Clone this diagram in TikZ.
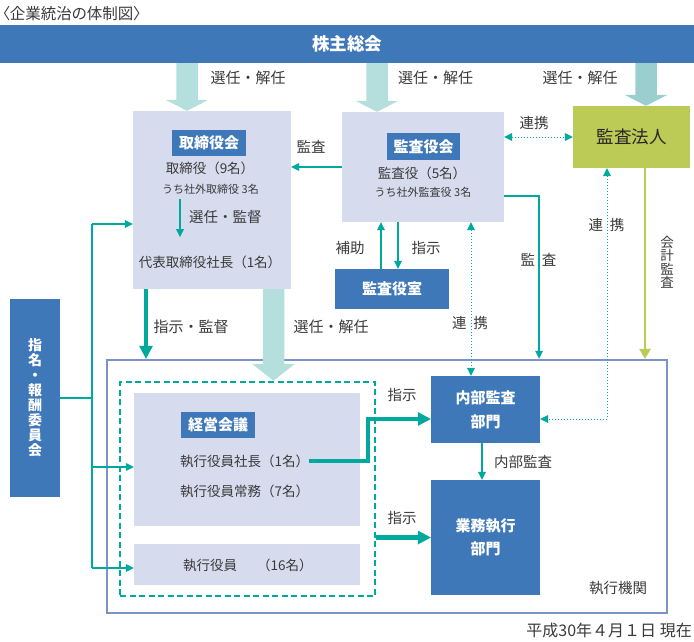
\documentclass[tikz,border=0pt]{standalone}
\usepackage{fontspec}
\setmainfont{Noto Sans CJK JP}
\newfontfamily\paltfont[RawFeature=+palt]{Noto Sans CJK JP}
\usetikzlibrary{arrows.meta,calc}
\definecolor{cblue}{HTML}{3F78B8}
\definecolor{clav}{HTML}{D6DCEE}
\definecolor{cteal}{HTML}{00A99D}
\definecolor{clight}{HTML}{B4DFDC}
\definecolor{cdark}{HTML}{9BCFCF}
\definecolor{colive}{HTML}{BCCA56}
\definecolor{cframe}{HTML}{7B93C9}
\definecolor{ctext}{HTML}{3A3A3A}
\newcommand\fsz[1]{\fontsize{#1}{#1}\selectfont}
\newcommand\fatarrow[5]{%
  \fill[#1] let \p1=(#3), \p2=(#4) in
    (#2pt-10.75pt,\y1) -- (#2pt+10.75pt,\y1) -- (#2pt+10.75pt,\y2+#5pt)
    -- (#2pt+21.5pt,\y2+#5pt) -- (#2pt,\y2) -- (#2pt-21.5pt,\y2+#5pt)
    -- (#2pt-10.75pt,\y2+#5pt) -- cycle;}
\tikzset{
  every node/.style={text=ctext, inner sep=0pt},
  bluebox/.style={fill=cblue, text=white, font=\fsz{15}\bfseries},
  lavbox/.style={fill=clav},
  body/.style={font=\fsz{13.5}},
  small/.style={font=\fsz{11}},
  lbl/.style={font=\fsz{14.5}},
  lblw/.style={font=\fsz{15}},
  conn/.style={draw=cteal, line width=1.3pt, -{Triangle[width=8pt,length=8pt,line width=0pt]}},
  tline/.style={draw=cteal, line width=1.3pt},
  dconn/.style={draw=cteal, line width=1pt, dotted, {Triangle[width=8pt,length=8pt,line width=0pt]}-{Triangle[width=8pt,length=8pt,line width=0pt]}},
  oconn/.style={draw=colive, line width=1.6pt, -{Triangle[width=12pt,length=10pt,line width=0pt]}},
  thickconn/.style={draw=cteal, line width=4.5pt, -{Triangle[width=14pt,length=13pt,line width=0pt]}},
}
\begin{document}
\begin{tikzpicture}[x=1pt,y=-1pt]
\useasboundingbox (0,0) rectangle (694,641);

% title and banner
\node[anchor=base west, font=\paltfont\fsz{15.5}, text height=12pt, text depth=3pt] (title) at (2,19) {〈企業統治の体制図〉};
\node[bluebox, minimum width=694pt, minimum height=38pt, font=\fsz{17.5}\bfseries] (banner) at (347,44) {株主総会};

% board of directors
\node[lavbox, minimum width=158pt, minimum height=178pt] (board) at (212,200) {};
\node[bluebox, minimum width=74pt, minimum height=26pt] (boardlbl) at (209,143) {取締役会};
\node[body] (bdir) at (210,168) {取締役（9名）};
\node[small] (bout) at (210.5,189) {うち社外取締役 3名};
\node[body] (bpres) at (210,262) {代表取締役社長（1名）};
\coordinate (ba1) at (180,199);
\coordinate (ba2) at (180,237);
\node[lbl, anchor=west] (lselect) at (189,217) {選任・監督};

% audit board
\node[lavbox, minimum width=162pt, minimum height=110pt] (audit) at (423,167) {};
\node[bluebox, minimum width=73pt, minimum height=27pt] (auditlbl) at (423.5,146.5) {監査役会};
\node[body] (adir) at (422,173) {監査役（5名）};
\node[small] (aout) at (423,192) {うち社外監査役 3名};

% audit firm
\node[fill=colive, minimum width=117pt, minimum height=62pt, font=\fsz{17.5}, text=black!85] (firm) at (631.5,137) {監査法人};

% audit office
\node[bluebox, minimum width=114pt, minimum height=40pt] (office) at (392,289) {監査役室};

% nomination committee
\node[bluebox, minimum width=50pt, minimum height=198pt, align=center, font=\fontsize{14}{15}\selectfont\bfseries] (nom) at (35,398) {指\\名\\・\\報\\酬\\委\\員\\会};

% executive frame
\node[draw=cframe, line width=2.5pt, minimum width=560pt, minimum height=253pt] (exec) at (387,486.5) {};
\node[draw=cteal, line width=2.5pt, dash pattern=on 6pt off 3.5pt, minimum width=255pt, minimum height=214pt] (dbox) at (247.5,489) {};
\node[lavbox, minimum width=226pt, minimum height=133pt] (mgmt) at (247,459.5) {};
\node[bluebox, minimum width=74pt, minimum height=26pt] (mgmtlbl) at (218,425) {経営会議};
\node[body, anchor=west] (pres) at (180,461) {執行役員社長（1名）};
\node[body, anchor=west] (mdir) at (180,491) {執行役員常務（7名）};
\node[lavbox, minimum width=226pt, minimum height=41pt] (officers) at (247,564.5) {};
\node[body, anchor=west] (offtxt) at (183,565) {執行役員\hspace{20pt}（16名）};
\node[bluebox, minimum width=109pt, minimum height=67pt, align=center, font=\fontsize{15}{24}\selectfont\bfseries] (internal) at (485.5,409.5) {内部監査\\部門};
\node[bluebox, minimum width=109pt, minimum height=115pt, align=center, font=\fontsize{15}{23}\selectfont\bfseries] (ops) at (485.5,537.5) {業務執行\\部門};
\node[lbl] (lexec) at (618,588) {執行機関};

% wide arrows
\fatarrow{clight}{187}{banner.south}{board.north}{11}
\fatarrow{clight}{377}{banner.south}{audit.north}{11}
\fatarrow{cdark}{646}{banner.south}{firm.north}{11}
\fatarrow{clight}{273.5}{board.south}{dbox.north}{17}

% connectors
\draw[conn] (ba1) -- (ba2);
\draw[conn] (audit.west) -- (audit.west -| board.east);
\draw[dconn] (firm.west -| audit.east) -- (firm.west);
\draw[conn] ([yshift=-29pt]audit.east) -| ([xshift=152pt]exec.north);
\draw[conn] ([xshift=-11pt]office.north) -- ([xshift=-11pt]office.north |- audit.south);
\draw[conn] ([xshift=6pt]office.north |- audit.south) -- ([xshift=6pt]office.north);
\draw[dconn] ([xshift=-14.5pt]internal.north |- audit.south) -- ([xshift=-14.5pt]internal.north);
\draw[dconn] ([xshift=-24.5pt]firm.south) |- ([yshift=-9.5pt]internal.east);
\draw[oconn] ([xshift=13.5pt]firm.south) -- ([xshift=13.5pt]firm.south |- exec.north);

\coordinate (bus1) at (92,224);
\coordinate (bus2) at (92,467);
\coordinate (bus3) at (92,568);
\draw[tline] (nom.east) -- (nom.east -| bus1);
\draw[tline] (bus1) -- (bus3);
\draw[conn] (bus1) -- (bus1 -| board.west);
\draw[conn] (bus2) -- (bus2 -| mgmt.west);
\draw[conn] (bus3) -- (bus3 -| officers.west);

\draw[thickconn] ([xshift=-66pt]board.south) -- ([xshift=-66pt]board.south |- exec.north);
\coordinate (k1) at (368,461);
\draw[thickconn] (pres.east) -- (pres.east -| k1) |- ([yshift=-9.5pt]internal.west);
\draw[thickconn] (dbox.east |- ops.west) -- (ops.west);
\draw[conn] ([xshift=-3.5pt]internal.south) -- ([xshift=-3.5pt]ops.north);

% labels
\node[lblw] (l1) at (248,78) {選任・解任};
\node[lblw] (l2) at (435.5,78) {選任・解任};
\node[lblw] (l3) at (580,78) {選任・解任};
\node[lblw] (l4) at (331,327) {選任・解任};
\node[lblw] (l5) at (191,327) {指示・監督};
\node[lbl] (l6) at (311,147) {監査};
\node[lbl] (l7) at (534,123) {連携};
\node[lbl] (l8) at (350,248) {補助};
\node[lbl] (l9) at (426,248) {指示};
\node[lbl] (l10) at (538.5,260) {監\hspace{7pt}査};
\node[lbl] (l11) at (470,323) {連\hspace{7pt}携};
\node[lbl] (l12) at (606.5,225) {連\hspace{7pt}携};
\node[align=center, font=\fontsize{13.5}{13.5}\selectfont] (l13) at (667,262) {会\\計\\監\\査};
\node[lbl] (l14) at (402,395) {指示};
\node[lbl] (l15) at (402,518) {指示};
\node[lbl] (l16) at (523,462) {内部監査};
\node[anchor=east, font=\fsz{16}] (date) at (692,630) {平成30年４月１日 現在};
\end{tikzpicture}
\end{document}
